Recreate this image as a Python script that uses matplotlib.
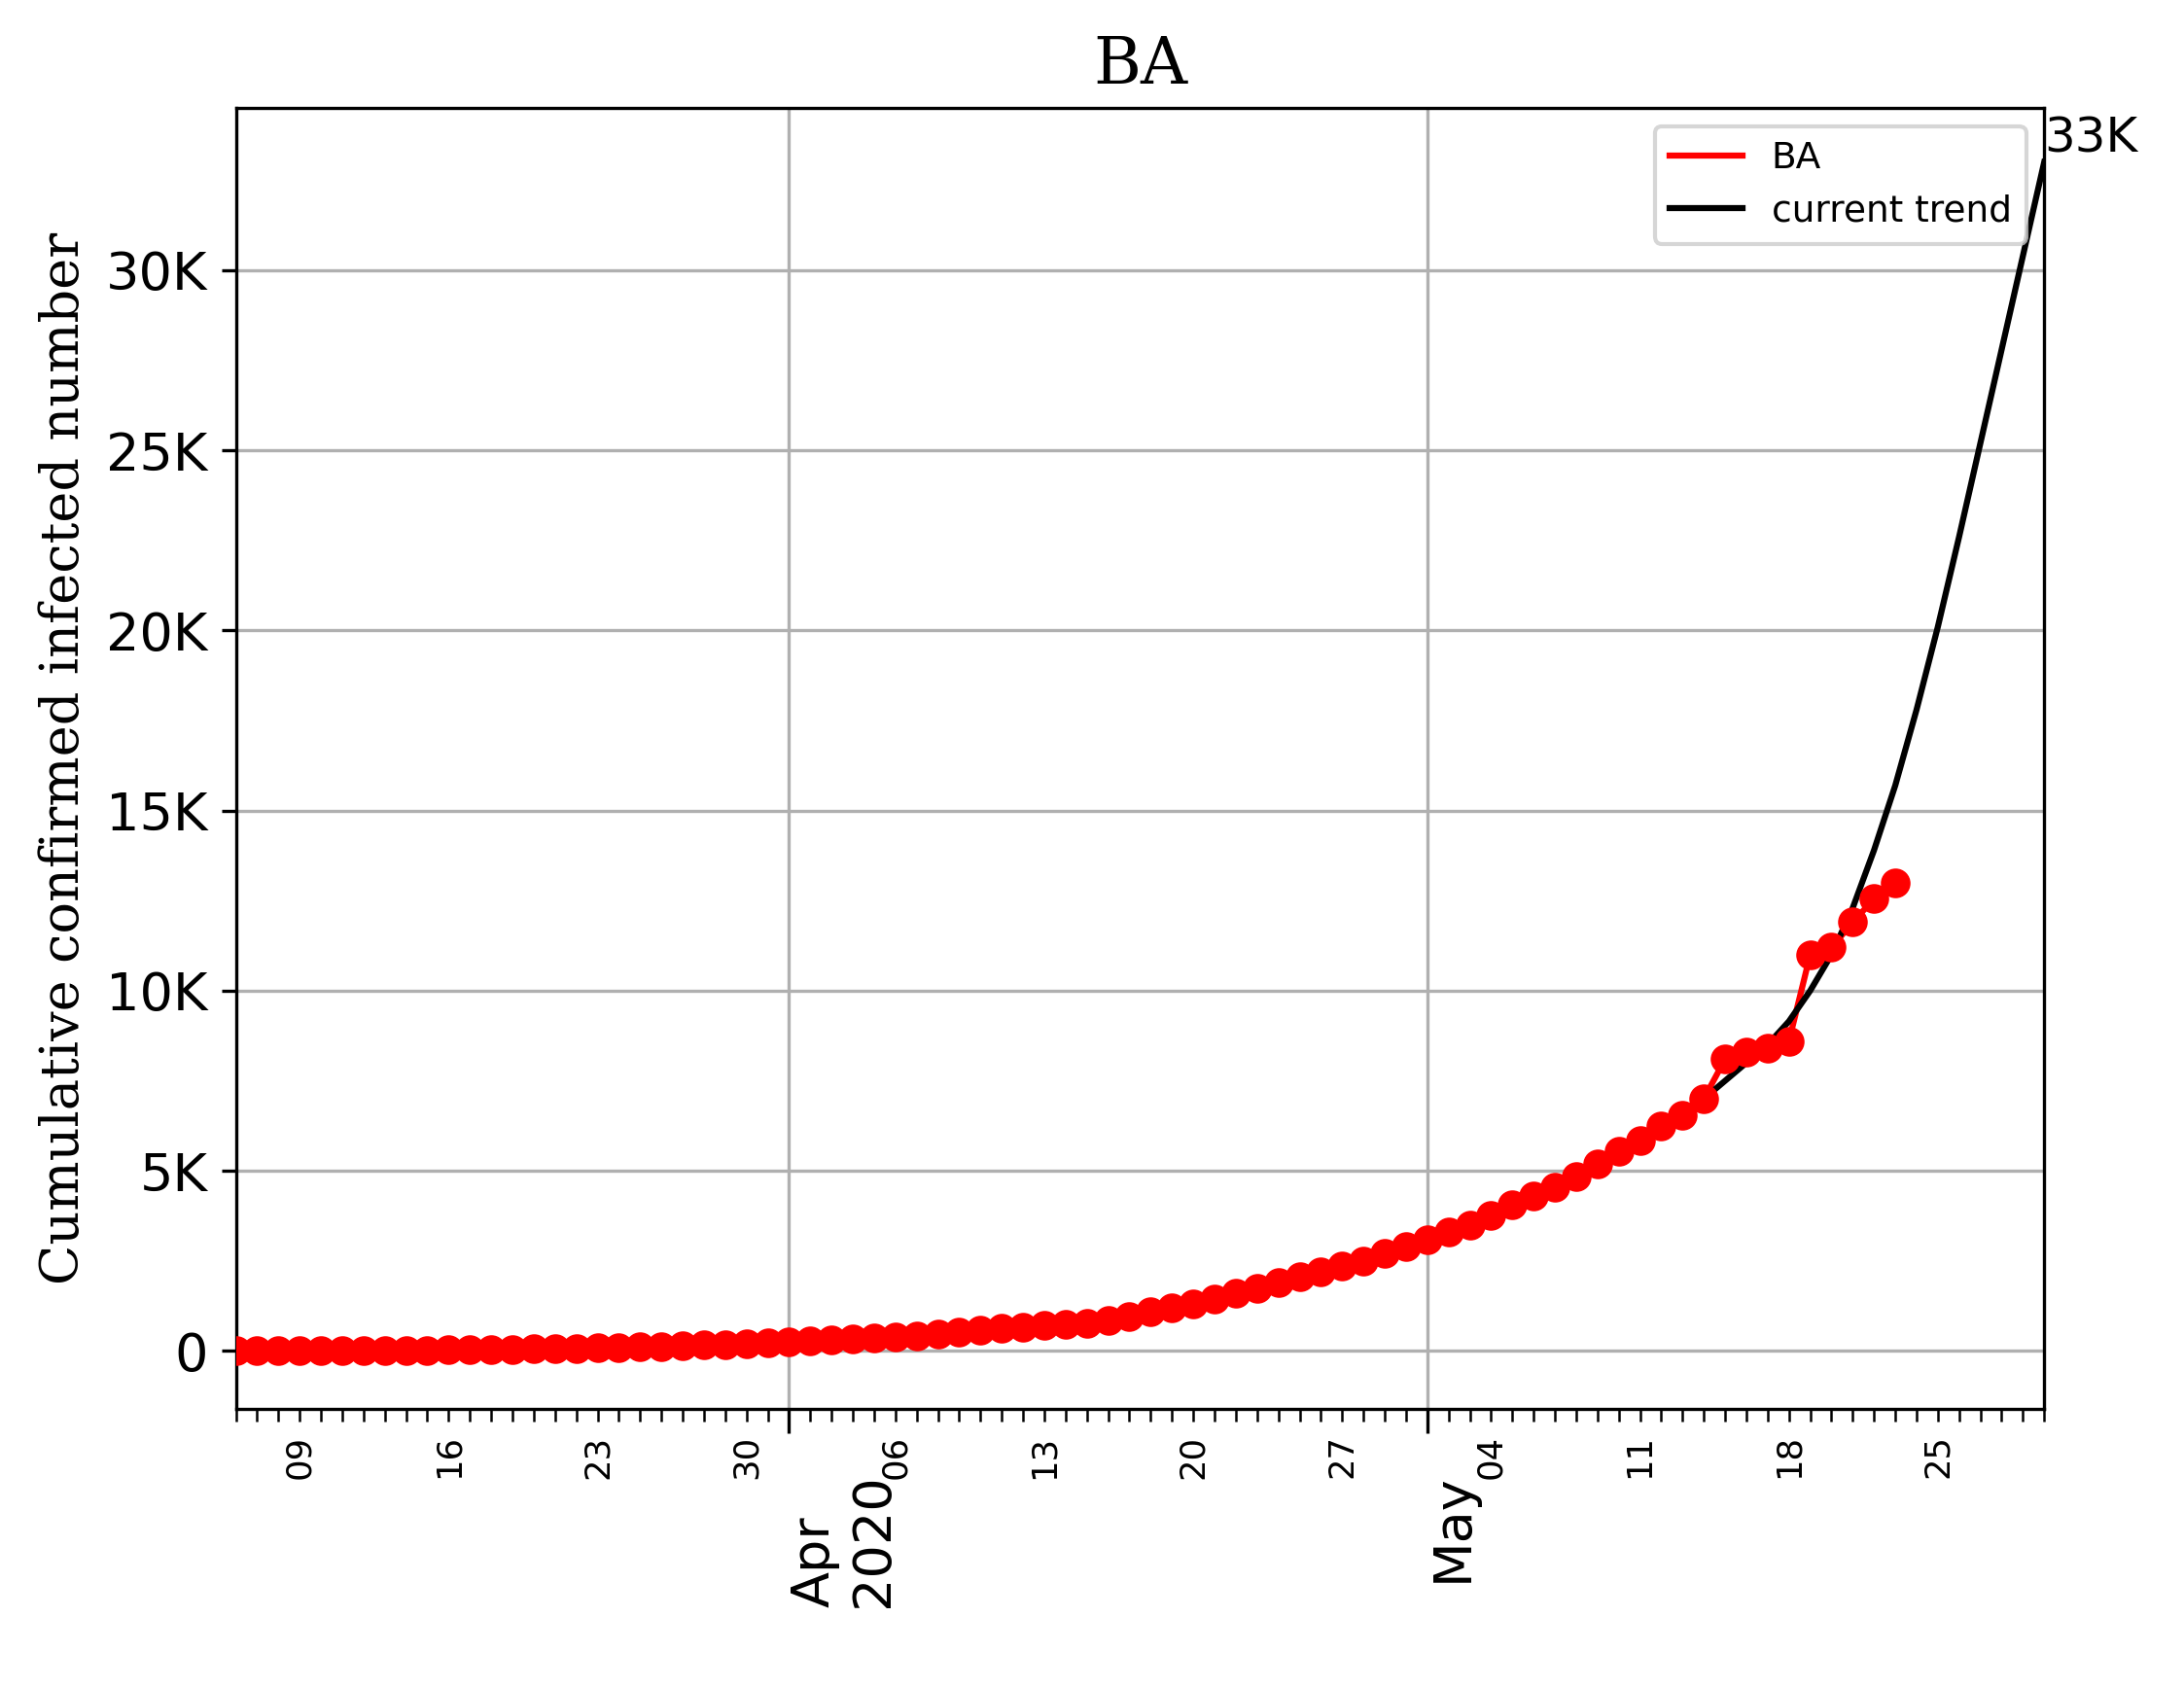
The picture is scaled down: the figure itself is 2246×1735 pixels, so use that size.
import matplotlib
matplotlib.use("Agg")
import matplotlib.pyplot as plt
import matplotlib.dates as mdates
import matplotlib.ticker as mticker
import pandas as pd

# observed cumulative cases, one per day from 2020-03-06 to 2020-05-23
obs_start = "2020-03-06"
obs_mar = [1, 2, 3, 5, 8, 10, 12, 15, 18, 22, 27, 33, 40, 48, 56, 66, 76, 88,
           100, 115, 130, 150, 165, 185, 205, 225]
obs_apr = [250, 270, 300, 330, 360, 390, 430, 470, 520, 570, 620, 660, 700, 740,
           780, 850, 950, 1080, 1200, 1300, 1450, 1600, 1750, 1900, 2050, 2200,
           2350, 2500, 2700, 2900]
obs_may = [3100, 3300, 3500, 3750, 4050, 4300, 4550, 4850, 5200, 5550, 5850,
           6250, 6550, 7000, 8100, 8300, 8400, 8600, 11000, 11200, 11900, 12550,
           13000]
obs_values = obs_mar + obs_apr + obs_may
# fitted trend, one per day from 2020-05-09
trend_start = "2020-05-09"
trend_values = [5200, 5500, 5850, 6250, 6600, 7000, 7500, 8000, 8500, 9150, 10000,
                11000, 12300, 13900, 15700, 17800, 20100, 22600, 25200, 27800,
                30400, 33000]

obs_dates = pd.date_range(obs_start, periods=len(obs_values), freq="D")
trend_dates = pd.date_range(trend_start, periods=len(trend_values), freq="D")

fig = plt.figure(figsize=(2246 / 300, 1735 / 300), dpi=300)
ax = fig.add_axes([0.108, 0.165, 0.828, 0.771])

ax.plot(obs_dates, obs_values, color="red", label="BA")
ax.scatter(obs_dates, obs_values, color="red", s=40, zorder=3)
ax.plot(trend_dates, trend_values, color="black", label="current trend")
ax.annotate("33K", (trend_dates[-1], trend_values[-1]), fontsize=12,
            ha="left", va="bottom")

ax.set_xlim(pd.Timestamp("2020-03-06"), pd.Timestamp("2020-05-30"))
ax.set_ylim(-1600, 34500)
ax.yaxis.set_major_locator(mticker.MultipleLocator(5000))
ax.yaxis.set_major_formatter(mticker.FuncFormatter(
    lambda v, p: "0" if v == 0 else f"{int(v / 1000)}K"))
ax.tick_params(axis="y", labelsize=13)

ax.xaxis.set_major_locator(mdates.MonthLocator())
ax.xaxis.set_major_formatter(mticker.FuncFormatter(
    lambda v, p: mdates.num2date(v).strftime("%b") +
    ("\n2020" if mdates.num2date(v).month == 4 else "")))
ax.xaxis.set_minor_locator(mdates.DayLocator())
ax.xaxis.set_minor_formatter(mticker.FuncFormatter(
    lambda v, p: mdates.num2date(v).strftime("%d")
    if mdates.num2date(v).weekday() == 0 else ""))
ax.tick_params(axis="x", which="major", labelsize=13, labelrotation=90,
               length=6, pad=10)
ax.tick_params(axis="x", which="minor", labelsize=8.5, labelrotation=90, length=3)
for lbl in ax.get_xticklabels(which="major"):
    lbl.set_horizontalalignment("left")

ax.grid(True, color="#b0b0b0")
ax.set_title("BA", family="serif", fontsize=16)
ax.set_ylabel("Cumulative confirmed infected number", family="serif", fontsize=13)
ax.legend(loc="upper right", fontsize=9)

fig.savefig("out.png", dpi=300)
